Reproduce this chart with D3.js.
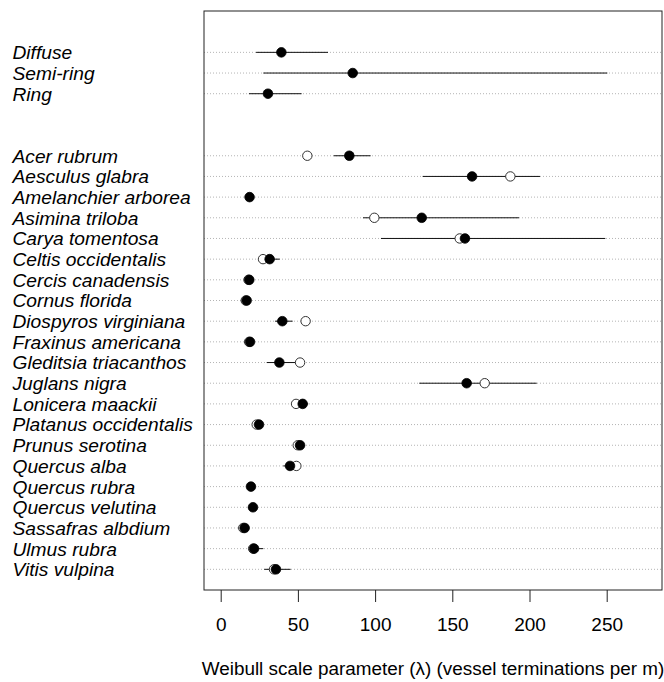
<!DOCTYPE html>
<html>
<head>
<meta charset="utf-8">
<script src="https://cdn.jsdelivr.net/npm/d3@7/dist/d3.min.js"></script>
<style>
html,body{margin:0;padding:0;background:#fff;}
svg{display:block;}
</style>
</head>
<body>
<svg id="chart" width="664" height="682"></svg>
<script>
// Row labels (null = empty spacer row)
const categories = ["Diffuse","Semi-ring","Ring",null,null,
  "Acer rubrum","Aesculus glabra","Amelanchier arborea","Asimina triloba","Carya tomentosa",
  "Celtis occidentalis","Cercis canadensis","Cornus florida","Diospyros virginiana","Fraxinus americana",
  "Gleditsia triacanthos","Juglans nigra","Lonicera maackii","Platanus occidentalis","Prunus serotina",
  "Quercus alba","Quercus rubra","Quercus velutina","Sassafras albdium","Ulmus rubra","Vitis vulpina"];

// Filled points (estimate) with interval
const filledValues = [39.3,85.5,30.6,null,null,
  83.3,162.8,18.7,130.2,158.2,
  31.7,18.5,16.8,39.9,19.0,
  38.0,159.3,53.1,24.8,51.4,
  44.9,19.6,20.9,15.5,21.6,35.8];
const lowerValues = [22.9,27.6,18.3,null,null,
  73.2,130.8,17.5,92.2,103.8,
  27.0,17.0,15.5,35.2,17.8,
  29.8,128.6,49.5,22.5,49.0,
  40.5,18.5,19.5,14.5,19.5,28.2];
const upperValues = [69.5,250.4,52.4,null,null,
  97.1,206.8,20.0,193.2,249.1,
  38.2,20.0,18.0,46.6,20.3,
  50.0,204.7,56.7,26.5,53.5,
  48.5,21.0,22.3,16.8,27.6,45.3];
// Open points
const openValues = [null,null,null,null,null,
  56.1,187.6,null,99.5,154.8,
  27.4,18.0,16.2,55.0,18.4,
  51.4,171.0,48.8,23.3,49.9,
  49.0,null,null,14.6,21.0,34.5];

const tickValues = [0,50,100,150,200,250];
const xTitle = "Weibull scale parameter (\u03bb) (vessel terminations per m)";

const svg = d3.select("#chart");
const box = {left:204, right:662, top:11, bottom:590};
const x = d3.scaleLinear().domain([0,250]).range([220.7,606.7]);
const y = d3.scaleLinear().domain([-2,26]).range([box.top, box.bottom]);

const rows = categories.map((c,i)=>({label:c,i,f:filledValues[i],o:openValues[i],lo:lowerValues[i],hi:upperValues[i]}))
  .filter(d=>d.label!==null);

const font = "'Liberation Sans', Arial, sans-serif";

// gridlines
svg.append("g").selectAll("line").data(rows).join("line")
  .attr("x1",box.left).attr("x2",box.right)
  .attr("y1",d=>y(d.i)).attr("y2",d=>y(d.i))
  .attr("stroke","#b4b4b4").attr("stroke-width",1).attr("stroke-dasharray","1,2");

// row labels
svg.append("g").selectAll("text").data(rows).join("text")
  .attr("x",12.5).attr("y",d=>y(d.i)).attr("dy","0.36em")
  .attr("font-family",font).attr("font-style","italic").attr("font-size","19.2px")
  .attr("fill","#000").text(d=>d.label);

// intervals
svg.append("g").selectAll("line").data(rows.filter(d=>d.lo!=null)).join("line")
  .attr("x1",d=>x(d.lo)).attr("x2",d=>x(d.hi))
  .attr("y1",d=>y(d.i)).attr("y2",d=>y(d.i))
  .attr("stroke","#111").attr("stroke-width",1);

// open points
svg.append("g").selectAll("circle").data(rows.filter(d=>d.o!=null)).join("circle")
  .attr("cx",d=>x(d.o)).attr("cy",d=>y(d.i)).attr("r",4.7)
  .attr("fill","#fff").attr("stroke","#333").attr("stroke-width",1);

// filled points
svg.append("g").selectAll("circle").data(rows.filter(d=>d.f!=null)).join("circle")
  .attr("cx",d=>x(d.f)).attr("cy",d=>y(d.i)).attr("r",4.8)
  .attr("fill","#000").attr("stroke","#000").attr("stroke-width",0.8);

// box
svg.append("rect").attr("x",box.left).attr("y",box.top)
  .attr("width",box.right-box.left).attr("height",box.bottom-box.top)
  .attr("fill","none").attr("stroke","#222").attr("stroke-width",1);

// x axis
const ax = svg.append("g").attr("transform",`translate(0,${box.bottom})`)
  .call(d3.axisBottom(x).tickValues(tickValues).tickSize(12).tickPadding(16).tickFormat(d3.format("d")));
ax.select(".domain").remove();
ax.selectAll(".tick line").attr("stroke","#222");
ax.selectAll(".tick text").attr("font-family",font).attr("font-size","19px").attr("fill","#000");

svg.append("text").attr("x",(box.left+box.right)/2).attr("y",668).attr("dy","0.36em")
  .attr("text-anchor","middle").attr("font-family",font).attr("font-size","18.9px")
  .attr("fill","#000").text(xTitle);
</script>
</body>
</html>
